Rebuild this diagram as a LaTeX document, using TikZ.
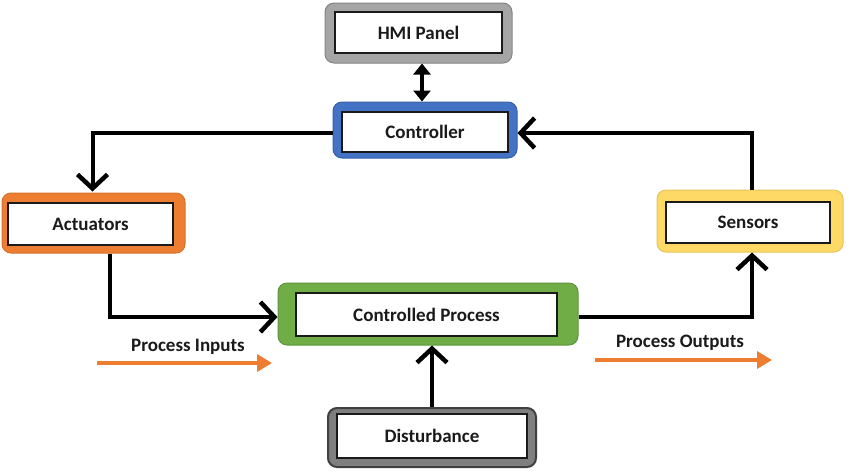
\documentclass[tikz,border=0pt]{standalone}
\usepackage{fontspec}
\setmainfont{Carlito}
\usetikzlibrary{arrows.meta,calc}
\definecolor{cblue}{HTML}{4472C4}
\definecolor{corange}{HTML}{ED7D31}
\definecolor{cgreen}{HTML}{70AD47}
\definecolor{cyellow}{HTML}{FFD966}
\definecolor{cgray}{HTML}{A5A5A5}
\definecolor{cdgray}{HTML}{7F7F7F}
\definecolor{ctext}{HTML}{1A1A1A}
\tikzset{
  outerbox/.style={rounded corners=9pt, line width=1pt},
  innerbox/.style={draw=ctext, fill=white, line width=2pt, text=ctext,
    font=\fontsize{19}{22}\selectfont\bfseries, inner sep=0pt},
  flow/.style={line width=4pt, draw=black, -{Straight Barb[length=14pt,width=30pt,line width=4.5pt]}},
  hmiarrow/.style={line width=4pt, draw=black, {Triangle[length=11pt,width=17pt]}-{Triangle[length=11pt,width=17pt]}},
  ioarrow/.style={line width=3.5pt, draw=corange, -{Triangle[length=15pt,width=17pt]}},
  iolabel/.style={text=ctext, font=\fontsize{19}{22}\selectfont\bfseries, inner sep=0pt}
}
\begin{document}
\begin{tikzpicture}[x=1pt,y=-1pt]
\useasboundingbox (0,0) rectangle (850,475);
% outer boxes
\node[outerbox, draw=cgray!80!black, fill=cgray, minimum width=187pt, minimum height=60pt] (hmi) at (418.5,33) {};
\node[outerbox, draw=cblue!85!black, fill=cblue, minimum width=184pt, minimum height=56pt] (ctrl) at (425,130) {};
\node[outerbox, draw=corange!90!black, fill=corange, minimum width=183pt, minimum height=60pt] (act) at (93.5,223) {};
\node[outerbox, draw=cgreen!85!black, fill=cgreen, minimum width=300pt, minimum height=62pt] (cp) at (428,314) {};
\node[outerbox, draw=cyellow!90!black, fill=cyellow, minimum width=186pt, minimum height=62pt] (sens) at (750,221) {};
\node[outerbox, draw=black!75, fill=cdgray, line width=2pt, minimum width=208pt, minimum height=59pt] (dist) at (432,437.5) {};
% inner boxes
\node[innerbox, minimum width=167pt, minimum height=41pt] (hmiin) at (418.5,32.5) {HMI Panel};
\node[innerbox, minimum width=166pt, minimum height=40pt] (ctrlin) at (425,132) {Controller};
\node[innerbox, minimum width=165pt, minimum height=42pt] (actin) at (90.5,224) {Actuators};
\node[innerbox, minimum width=261pt, minimum height=43pt] (cpin) at (426.5,314.5) {Controlled Process};
\node[innerbox, minimum width=164pt, minimum height=41pt] (sensin) at (748,222.5) {Sensors};
\node[innerbox, minimum width=190pt, minimum height=44pt] (distin) at (432,436) {Disturbance};
% connectors
\coordinate (hmiport) at ($(hmi.south)+(3.5,0)$);
\draw[hmiarrow] (hmiport) -- (hmiport |- ctrl.north);
\draw[flow] ($(ctrl.west)+(0,3)$) -| ($(act.north)+(-1,-1)$);
\draw[flow] ($(act.south)+(16,0)$) |- ($(cp.west)+(0,3)$);
\draw[flow] ($(cp.east)+(0,3)$) -| ($(sens.south)+(2,0)$);
\draw[flow] ($(sens.north)+(2,0)$) |- ($(ctrl.east)+(0,3)$);
\draw[flow] (dist.north) -- (dist.north |- cp.south);
% process inputs / outputs
\node[iolabel] (pin) at (188,347) {Process Inputs};
\node[iolabel] (pout) at (680,343) {Process Outputs};
\coordinate (pinA) at (97,363);
\coordinate (pinB) at (272,363);
\coordinate (poutA) at (595,360);
\coordinate (poutB) at (772,360);
\draw[ioarrow] (pinA) -- (pinB);
\draw[ioarrow] (poutA) -- (poutB);
\end{tikzpicture}
\end{document}
